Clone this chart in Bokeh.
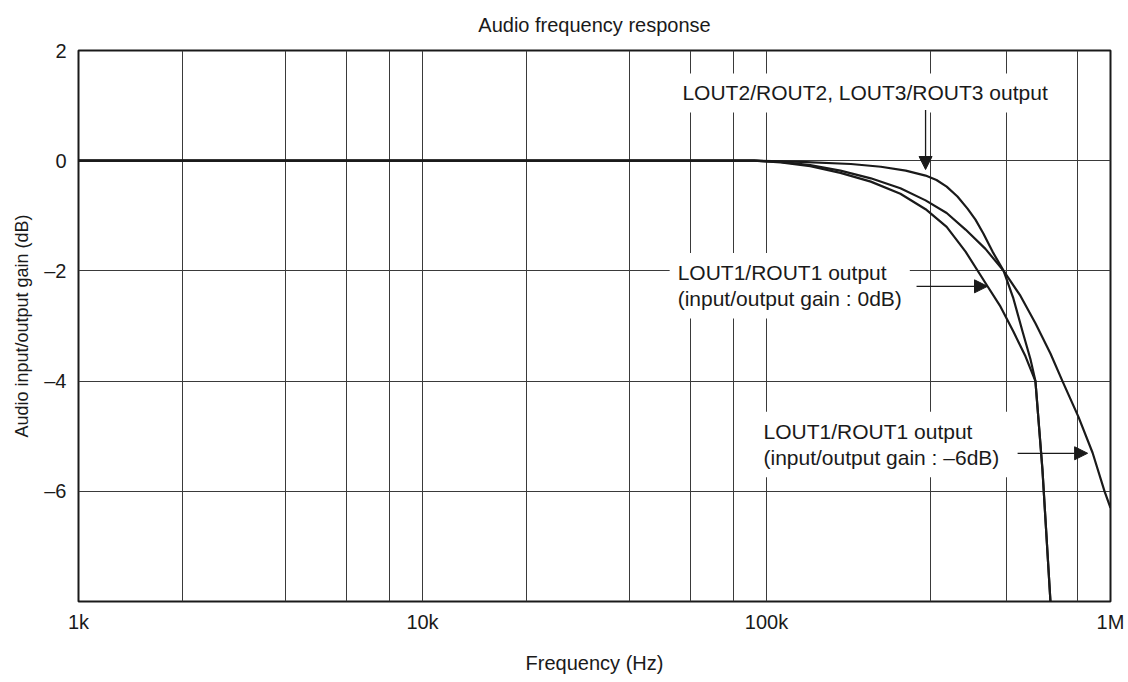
from bokeh.plotting import figure
from bokeh.models import (FixedTicker, CustomJSTickFormatter, Label, Arrow, NormalHead, Range1d)
from bokeh.embed import file_html
from bokeh.resources import INLINE

# ---------------- data ----------------
# LOUT2/ROUT2, LOUT3/ROUT3 output
freq_lout23 = [1e3, 92e3, 126e3, 176e3, 215e3, 254e3, 290e3, 312e3, 334e3, 359e3,
               384e3, 405e3, 427e3, 454e3, 489e3, 522e3, 555e3, 585e3, 605e3, 634e3, 669e3]
gain_lout23 = [0, 0, -0.02, -0.06, -0.11, -0.18, -0.27, -0.35, -0.47, -0.65,
               -0.87, -1.07, -1.32, -1.65, -2.0, -2.5, -3.1, -3.6, -4.0, -5.6, -8.0]

# LOUT1/ROUT1 output, input/output gain 0 dB
freq_lout1_0db = [1e3, 92e3, 110e3, 134e3, 164e3, 201e3, 245e3, 290e3, 334e3, 379e3,
                  433e3, 479e3, 522e3, 566e3, 605e3, 634e3, 669e3]
gain_lout1_0db = [0, 0, -0.03, -0.1, -0.22, -0.38, -0.6, -0.88, -1.2, -1.65,
                  -2.22, -2.65, -3.1, -3.55, -4.0, -5.6, -8.0]

# LOUT1/ROUT1 output, input/output gain -6 dB
freq_lout1_m6db = [1e3, 92e3, 110e3, 134e3, 164e3, 201e3, 245e3, 290e3, 334e3, 379e3,
                   433e3, 489e3, 547e3, 605e3, 669e3, 725e3, 807e3, 887e3, 961e3, 1e6]
gain_lout1_m6db = [0, 0, -0.02, -0.08, -0.18, -0.32, -0.5, -0.72, -0.95, -1.25,
                   -1.6, -2.0, -2.45, -2.95, -3.5, -4.0, -4.65, -5.3, -6.0, -6.3]

x_tick_values = [1e3, 1e4, 1e5, 1e6]
x_tick_labels = ["1k", "10k", "100k", "1M"]
x_grid_values = [2e3, 4e3, 6e3, 8e3, 1e4, 2e4, 4e4, 6e4, 8e4, 1e5, 3e5, 5e5, 8e5]
y_tick_values = [2, 0, -2, -4, -6]
y_tick_labels = ["2", "0", "\u20132", "\u20134", "\u20136"]
y_grid_values = [0, -2, -4, -6]

title_text = "Audio frequency response"
x_label = "Frequency (Hz)"
y_label = "Audio input/output gain (dB)"
ann_lout23 = "LOUT2/ROUT2, LOUT3/ROUT3 output"
ann_0db = "LOUT1/ROUT1 output\n(input/output gain : 0dB)"
ann_m6db = "LOUT1/ROUT1 output\n(input/output gain : \u20136dB)"

# ---------------- styling ----------------
FONT = "Liberation Sans"
INK = "#1a1a1a"
GRID = "#3a3a3a"

p = figure(width=1128, height=682, x_axis_type="log",
           x_range=Range1d(1e3, 1e6), y_range=Range1d(-8, 2),
           output_backend="svg", toolbar_location=None,
           min_border_left=78, min_border_right=18, min_border_top=50, min_border_bottom=81)

p.title.text = title_text
p.title.align = "center"
p.title.vertical_align = "top"
p.title.text_font = FONT
p.title.text_font_size = "20px"
p.title.text_font_style = "normal"
p.title.text_color = INK
p.title.standoff = 26

p.outline_line_color = INK
p.outline_line_width = 2
p.background_fill_color = "white"
p.border_fill_color = "white"

# axes
xa = p.xaxis[0]
xa.ticker = FixedTicker(ticks=x_tick_values)
xa.formatter = CustomJSTickFormatter(args=dict(vals=x_tick_values, labs=x_tick_labels), code="""
for (let i = 0; i < vals.length; i++) {
  if (Math.abs(tick - vals[i]) <= 1e-6 * Math.abs(vals[i])) return labs[i];
}
return "";
""")
ya = p.yaxis[0]
ya.ticker = FixedTicker(ticks=y_tick_values)
ya.formatter = CustomJSTickFormatter(args=dict(vals=y_tick_values, labs=y_tick_labels), code="""
for (let i = 0; i < vals.length; i++) {
  if (Math.abs(tick - vals[i]) < 1e-9) return labs[i];
}
return "";
""")
for ax in (xa, ya):
    ax.axis_line_color = None
    ax.major_tick_out = 0
    ax.major_tick_in = 0
    ax.minor_tick_out = 0
    ax.minor_tick_in = 0
    ax.major_label_text_font = FONT
    ax.major_label_text_font_size = "20px"
    ax.major_label_text_color = INK
    ax.axis_label_text_font = FONT
    ax.axis_label_text_font_style = "normal"
    ax.axis_label_text_color = INK

xa.axis_label = x_label
xa.axis_label_text_font_size = "20px"
xa.major_label_standoff = 9
xa.axis_label_standoff = 16

ya.axis_label = y_label
ya.axis_label_text_font_size = "18px"
ya.major_label_standoff = 12
ya.axis_label_standoff = 9
ya.major_label_orientation = "horizontal"

# grids
p.xgrid.ticker = FixedTicker(ticks=x_grid_values)
p.ygrid.ticker = FixedTicker(ticks=y_grid_values)
p.xgrid.grid_line_color = GRID
p.ygrid.grid_line_color = GRID
p.xgrid.grid_line_width = 1
p.ygrid.grid_line_width = 1.2
p.xgrid.minor_grid_line_color = None

# curves
for fx, gy in ((freq_lout23, gain_lout23), (freq_lout1_0db, gain_lout1_0db),
               (freq_lout1_m6db, gain_lout1_m6db)):
    p.line(fx, gy, line_color=INK, line_width=2.2, line_join="round")

# annotations (text with white boxes)
def add_label(x, y, text):
    lab = Label(x=x, y=y, text=text, text_font=FONT, text_font_size="21px",
                text_color=INK, text_align="left", text_baseline="middle",
                text_line_height=1.15,
                background_fill_color="white", background_fill_alpha=1.0,
                padding=8)
    p.add_layout(lab)

add_label(54.0e3, 1.23, ann_lout23)
add_label(52.3e3, -2.27, ann_0db)
add_label(92.9e3, -5.15, ann_m6db)

def add_arrow(x0, y0, x1, y1):
    p.add_layout(Arrow(x_start=x0, y_start=y0, x_end=x1, y_end=y1,
                       line_color=INK, line_width=1.3,
                       end=NormalHead(size=13, fill_color=INK, line_color=INK, line_width=1)))

add_arrow(290e3, 0.92, 290e3, -0.16)
add_arrow(273e3, -2.28, 439e3, -2.28)
add_arrow(537e3, -5.31, 858e3, -5.31)

open("out.html", "w").write(file_html(p, INLINE))
